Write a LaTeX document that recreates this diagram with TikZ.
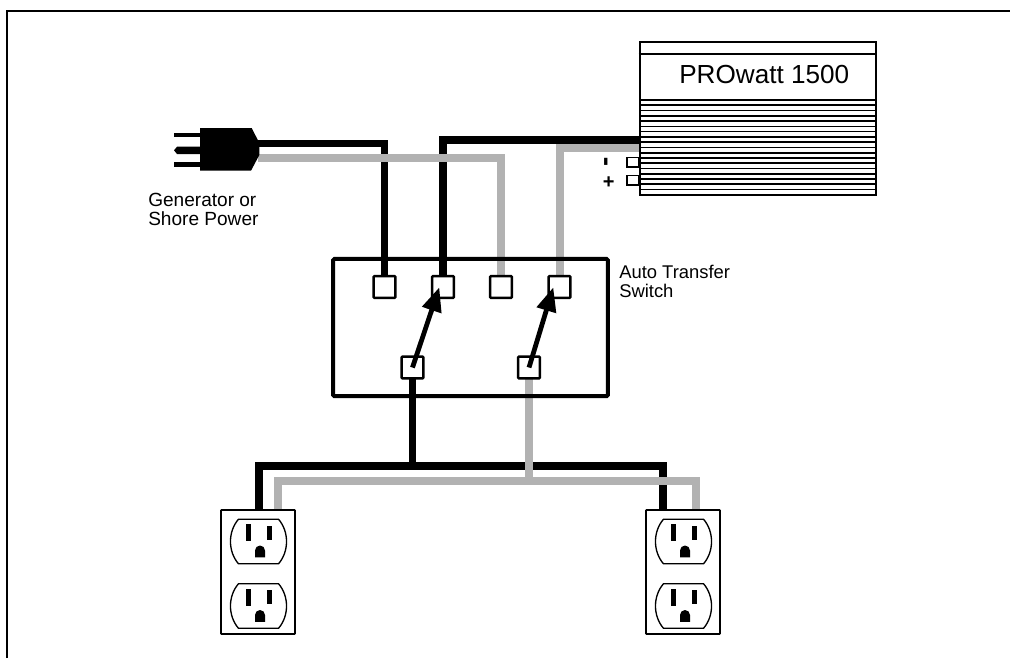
\documentclass[tikz,border=0pt]{standalone}
\usepackage{fontspec}
\setmainfont{Liberation Sans}
\usetikzlibrary{arrows.meta,backgrounds}
\tikzset{
	blackwire/.style={draw=black,line width=5.4pt},
	graywire/.style={draw=black!30,line width=5.4pt},
	heavy/.style={line width=6pt},
	term/.style={draw,line width=1.9pt,fill=white,minimum size=16.2pt,inner sep=0pt,rounded corners=.5pt},
	lug/.style={draw,line width=1pt,fill=white,minimum width=9pt,minimum height=7pt,inner sep=0pt},
	plate/.style={draw,line width=1.4pt,minimum width=55.5pt,minimum height=93pt,inner sep=0pt,rounded corners=.5pt},
	switcharm/.style={line width=3.6pt,-{Triangle[length=18pt,width=14.5pt]}},
	slot/.style={fill=black},
	label/.style={inner sep=0pt,align=left,anchor=base west},
}
\begin{document}
\begin{tikzpicture}[x=.75pt,y=-.75pt]
	\useasboundingbox (0,0) rectangle (1010,658);
	%FRAME
	\draw [line width=1.6pt] (7,658) -- (7,11) -- (1010,11);
	%NODES for inverter
	\node[draw,line width=1.5pt,minimum width=177pt,minimum height=115pt,inner sep=0pt](inv) at (757.5,118.5){};
	\draw [line width=1.1pt] (inv.north west)++(0,13) -- ++(237,0);
	\foreach \y in {100,105.27,...,195}
		\draw [line width=1.25pt] (639,\y) -- (876,\y);
	\node[label,font=\fontsize{19.6pt}{20pt}\selectfont](name) at (679,83){PROwatt 1500};
	\node[lug](lug1) at (633,162.3){};
	\node[lug](lug2) at (633,180.3){};
	\node[font=\bfseries\fontsize{21pt}{21pt}\selectfont,rotate=90,inner sep=0pt](minus) at (609,161.7){-};
	\node[font=\bfseries\fontsize{15pt}{15pt}\selectfont,inner sep=0pt](plus) at (608.7,182.7){+};
	%NODES for plug
	\fill (200,128) -- (251.7,128) -- (259.3,143) -- (259.3,155) -- (251,170.7) -- (200,170.7) -- cycle;
	\fill (174,132.7) rectangle (200,137);
	\fill (200,146.7) -- (177,146.7) -- (174,150.3) -- (177,154) -- (200,154) -- cycle;
	\fill (174,162.3) rectangle (200,166.7);
	\coordinate (plugb) at (258,143.5);
	\coordinate (plugg) at (258,158);
	\node[label,font=\fontsize{14.3pt}{14.25pt}\selectfont](gen) at (148,225){Generator or\\Shore Power};
	%NODES for switch
	\node[term](t1) at (384.5,287){};
	\node[term](t2) at (443,287){};
	\node[term](t3) at (501,287){};
	\node[term](t4) at (559.5,287){};
	\node[term](s1) at (412.5,367.5){};
	\node[term](s2) at (529,367.5){};
	\node[draw,line width=3pt,minimum width=206pt,minimum height=103pt,inner sep=0pt,rounded corners=1pt](sw) at (470.5,327.5){};
	\node[label,font=\fontsize{13.8pt}{14.25pt}\selectfont](swname) at (619,297){Auto Transfer\\Switch};
	\coordinate (tip1) at (439.3,287.3);
	\coordinate (tip2) at (553.3,287.3);
	\draw [switcharm] (s1.center) -- (tip1);
	\draw [switcharm] (s2.center) -- (tip2);
	%NODES for outlets
	\node[plate](o1) at (258,572){};
	\node[plate](o2) at (683,572){};
	\foreach \o/\x in {o1/258.5,o2/683.5}{
		\foreach \y in {541.5,606}{
			\draw [line width=1pt] (\x-20,\y-22.3) -- (\x+20,\y-22.3)
				.. controls (\x+30.7,\y-10) and (\x+30.7,\y+10) .. (\x+20,\y+22.3)
				-- (\x-20,\y+22.3)
				.. controls (\x-30.7,\y+10) and (\x-30.7,\y-10) .. (\x-20,\y-22.3) -- cycle;
			\fill[slot] (\x-12.8,\y-17.5) rectangle (\x-7.8,\y-0.5);
			\fill[slot] (\x+8.8,\y-16) rectangle (\x+13.8,\y-2);
			\fill[slot] (\x-3.5,\y+15.8) -- (\x-3.5,\y+9) arc (180:360:5 and 5) -- (\x+6.5,\y+15.8) -- cycle;
		}
	}
	%PATHS
	\coordinate (invb) at (639,140);
	\coordinate (invg) at (639,148);
	\coordinate (busb) at (259,466);
	\coordinate (busbr) at (663,466);
	\coordinate (busg) at (278,481);
	\coordinate (busgr) at (696,481);
	\begin{scope}[on background layer]
		\draw [blackwire] (plugb) -| (t1.center);
		\draw [blackwire,heavy] (invb) -| (t2.center);
		\draw [blackwire] (s1.center) -- (s1 |- busb);
		\draw [blackwire] (o1.north -| busb) -- (busb) -- (busbr) -- (o2.north -| busbr);
		\draw [graywire,heavy] (plugg) -| (t3.center);
		\draw [graywire,heavy] (invg) -| (t4.center);
		\draw [graywire] (s2.center) -- (s2 |- busg);
		\draw [graywire] (o1.north -| busg) -- (busg) -- (busgr) -- (o2.north -| busgr);
	\end{scope}
\end{tikzpicture}
\end{document}
